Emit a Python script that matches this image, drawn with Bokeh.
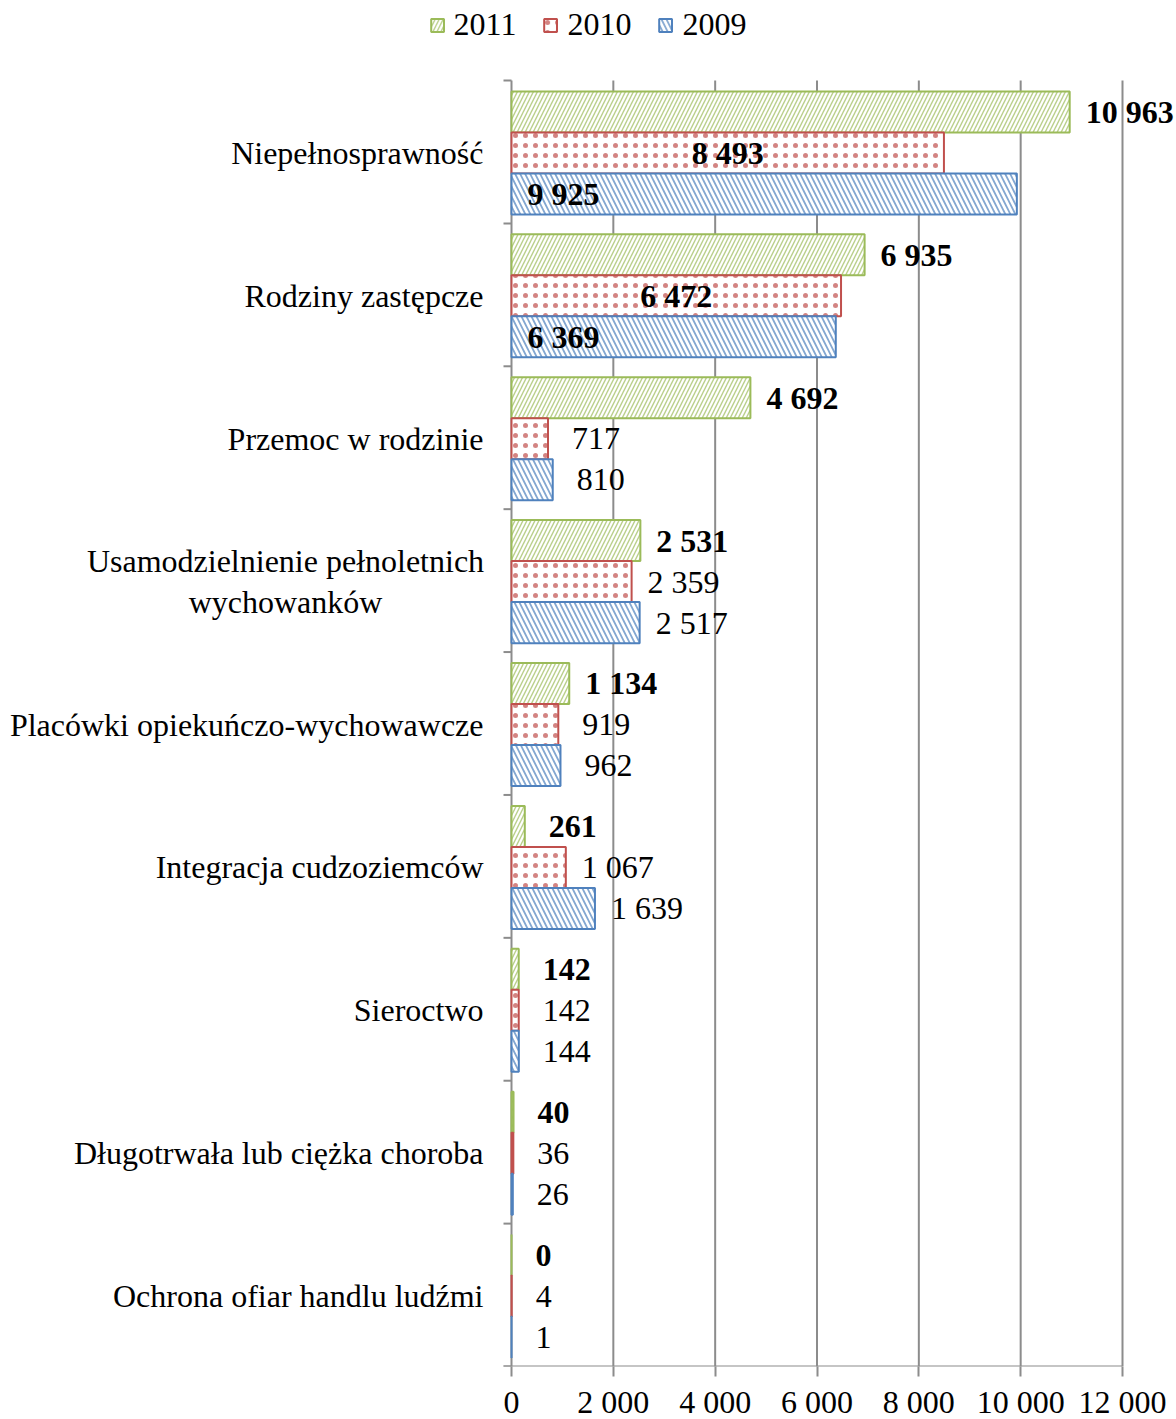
from bokeh.plotting import figure
from bokeh.models import (ColumnDataSource, Range1d, FixedTicker, Legend, LegendItem)
from bokeh.core.properties import value
from bokeh.embed import file_html
from bokeh.resources import INLINE

categories = ["Niepełnosprawność", "Rodziny zastępcze", "Przemoc w rodzinie",
              "Usamodzielnienie pełnoletnich\nwychowanków", "Placówki opiekuńczo-wychowawcze",
              "Integracja cudzoziemców", "Sieroctwo", "Długotrwała lub ciężka choroba",
              "Ochrona ofiar handlu ludźmi"]
years = ["2011", "2010", "2009"]
v2011 = [10963, 6935, 4692, 2531, 1134, 261, 142, 40, 0]
v2010 = [8493, 6472, 717, 2359, 919, 1067, 142, 36, 4]
v2009 = [9925, 6369, 810, 2517, 962, 1639, 144, 26, 1]
x_ticks = [0, 2000, 4000, 6000, 8000, 10000, 12000]
x_tick_labels = ["0", "2 000", "4 000", "6 000", "8 000", "10 000", "12 000"]

FONT_NAME = "Liberation Serif"
FONT = value(FONT_NAME)
FS_PX = "32px"
FS = value(FS_PX)
GRAY = "#8c8c8c"
colors = {"2011": "#9BBB59", "2010": "#C0504D", "2009": "#4F81BD"}
hatches = {"2011": ("right_diagonal_line", 8, 1.4),
           "2010": ("dot", 10, 2.0),
           "2009": ("left_diagonal_line", 10, 1.8)}
offsets = {"2011": -0.287, "2010": 0.0, "2009": 0.287}
series = {"2011": v2011, "2010": v2010, "2009": v2009}

# layout geometry (canvas pixels)
W, H = 1175, 1419
AX_LEFT, AX_W = 511, 611          # pixel of value 0, pixel width of 0..12000
TOP, PLOT_H = 80, 1286            # top of category area, height of category area
BOTTOM = H - TOP - PLOT_H
ncat = len(categories)
upx = x_ticks[-1] / AX_W          # data units per pixel in x
x0 = -AX_LEFT * upx
x1 = (W - AX_LEFT) * upx
cat_px = PLOT_H / ncat
y_top = -TOP / cat_px

p = figure(frame_width=W, frame_height=H - BOTTOM, output_backend="svg", toolbar_location=None,
           x_range=Range1d(x0, x1), y_range=Range1d(ncat, y_top),
           min_border_left=0, min_border_right=0, min_border_top=0, min_border_bottom=BOTTOM)
p.outline_line_color = None
p.background_fill_color = "white"
p.yaxis.visible = False
p.xgrid.grid_line_color = None
p.ygrid.grid_line_color = None

# gridlines and axis lines
p.segment(x0=x_ticks, x1=x_ticks, y0=[0] * len(x_ticks), y1=[ncat] * len(x_ticks),
          line_color=GRAY, line_width=2)
p.segment(x0=[-8 * upx], x1=[x_ticks[-1]], y0=[ncat], y1=[ncat], line_color=GRAY, line_width=2)
bounds = list(range(ncat + 1))
p.segment(x0=[-8 * upx] * len(bounds), x1=[0] * len(bounds), y0=bounds, y1=bounds,
          line_color=GRAY, line_width=2)

def fmt(v):
    return f"{v:,}".replace(",", " ")

items = []
for yr in years:
    vals = series[yr]
    ys = [i + 0.507 + offsets[yr] for i in range(ncat)]
    src = ColumnDataSource(dict(y=ys, right=vals))
    hp, hs, hw = hatches[yr]
    r = p.hbar(y="y", right="right", left=0, height=0.287, source=src,
               fill_color="white", line_color=colors[yr], line_width=2,
               hatch_pattern=hp, hatch_color=colors[yr], hatch_scale=hs, hatch_weight=hw,
               hatch_alpha=0.7)
    items.append(LegendItem(label=yr, renderers=[r]))

    lx, lo, la, ltxt, lw = [], [], [], [], []
    for v in vals:
        ltxt.append(fmt(v))
        if yr == "2010" and v > 5000:
            lx.append(v / 2); lo.append(0); la.append("center"); lw.append("bold")
        elif yr == "2009" and v > 5000:
            lx.append(0); lo.append(16); la.append("left"); lw.append("bold")
        else:
            lx.append(v); lo.append(16 if v >= 1000 else 24); la.append("left")
            lw.append("bold" if yr == "2011" else "normal")
    lsrc = ColumnDataSource(dict(x=lx, y=ys, t=ltxt, o=lo, a=la, w=lw))
    p.text(x="x", y="y", text="t", x_offset="o", source=lsrc,
           text_align="a", text_baseline="middle", text_font=FONT,
           text_font_size=FS, text_font_style="w", text_color="black")

# category labels
cx, co, ca, ct, cy = [], [], [], [], []
for i, c in enumerate(categories):
    cy.append(i + 0.507)
    ct.append(c)
    cx.append(0)
    if "\n" in c:
        co.append(-226); ca.append("center")
    else:
        co.append(-28); ca.append("right")
csrc = ColumnDataSource(dict(x=cx, y=cy, t=ct, o=co, a=ca))
p.text(x="x", y="y", text="t", x_offset="o", source=csrc, text_align="a",
       text_baseline="middle", text_font=FONT, text_font_size=FS, text_color="black",
       text_line_height=1.15)

# x axis
p.xaxis.ticker = FixedTicker(ticks=x_ticks)
p.xaxis.major_label_overrides = {t: l for t, l in zip(x_ticks, x_tick_labels)}
p.xaxis.major_label_text_font = FONT_NAME
p.xaxis.major_label_text_font_size = FS_PX
p.xaxis.major_label_text_color = "black"
p.xaxis.major_tick_out = 10
p.xaxis.major_tick_in = 0
p.xaxis.minor_tick_line_color = None
p.xaxis.axis_line_color = None
p.xaxis.major_tick_line_color = GRAY
p.xaxis.major_tick_line_width = 2
p.xaxis.major_label_standoff = 7

legend = Legend(items=items, orientation="horizontal", location="top_center",
                label_text_font=FONT_NAME, label_text_font_size=FS_PX,
                label_text_color="black", glyph_width=16, glyph_height=16, spacing=26,
                label_standoff=9, border_line_color=None, background_fill_alpha=0,
                padding=2, margin=6)
p.add_layout(legend, "center")

open("out.html", "w").write(file_html(p, INLINE))
